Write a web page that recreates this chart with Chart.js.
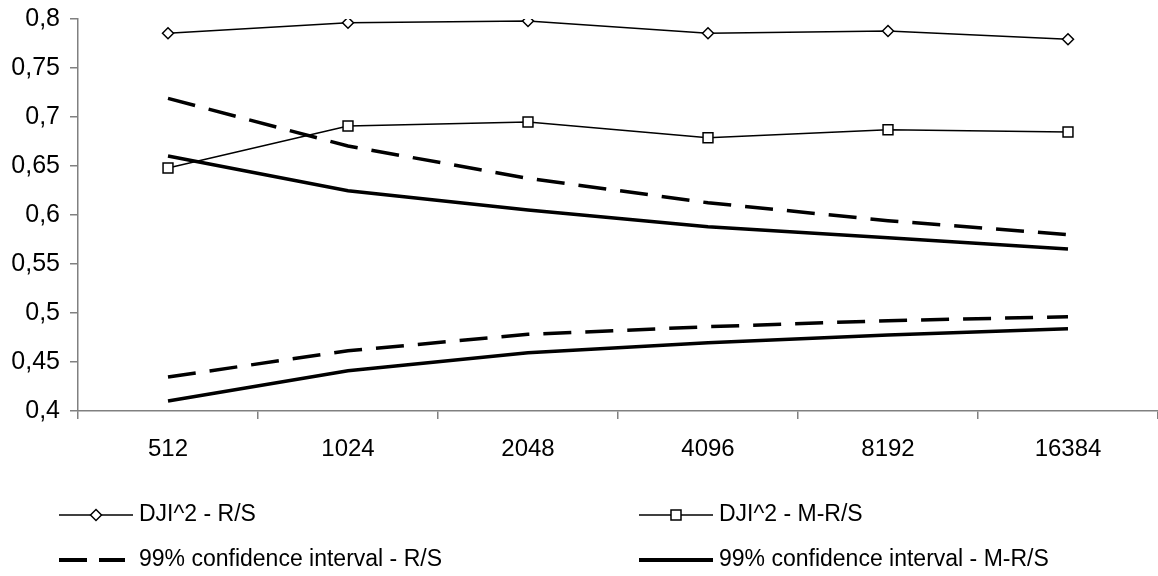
<!DOCTYPE html>
<html>
<head>
<meta charset="utf-8">
<script src="https://cdn.jsdelivr.net/npm/chart.js@4/dist/chart.umd.min.js"></script>
<style>
html,body{margin:0;padding:0;background:#fff;}
#c{display:block;}
</style>
</head>
<body>
<canvas id="c" width="1158" height="576"></canvas>
<script>
const categories = ['512', '1024', '2048', '4096', '8192', '16384'];
const djiRS = [0.7854, 0.7962, 0.7980, 0.7854, 0.7878, 0.7793];
const djiMRS = [0.6480, 0.6908, 0.6949, 0.6789, 0.6870, 0.6847];
const ciRSUpper = [0.7190, 0.6704, 0.6374, 0.6125, 0.5942, 0.5799];
const ciRSLower = [0.4347, 0.4615, 0.4782, 0.4860, 0.4922, 0.4962];
const ciMRSUpper = [0.6602, 0.6248, 0.6051, 0.5881, 0.5768, 0.5653];
const ciMRSLower = [0.4102, 0.4411, 0.4595, 0.4697, 0.4776, 0.4840];
const legendLabels = ['DJI^2 - R/S', 'DJI^2 - M-R/S', '99% confidence interval - R/S', '99% confidence interval - M-R/S'];
const yMin = 0.4, yMax = 0.8, yStep = 0.05;

const FONT = "'Liberation Sans', Arial, sans-serif";
const AXIS = '#808080';
const DASH = [28, 14];

const legendPlugin = {
  id: 'customLegend',
  afterDraw(chart) {
    const ctx = chart.ctx;
    ctx.save();
    const entries = [
      {x: 59, y: 515, label: legendLabels[0], type: 'diamond'},
      {x: 639, y: 515, label: legendLabels[1], type: 'square'},
      {x: 59, y: 560, label: legendLabels[2], type: 'dash'},
      {x: 639, y: 560, label: legendLabels[3], type: 'solid'}
    ];
    entries.forEach(e => {
      ctx.strokeStyle = '#000';
      ctx.lineCap = 'butt';
      ctx.beginPath();
      if (e.type === 'dash') {
        ctx.lineWidth = 4;
        ctx.setLineDash([28, 12]);
        ctx.moveTo(e.x, e.y); ctx.lineTo(e.x + 66, e.y);
      } else if (e.type === 'solid') {
        ctx.lineWidth = 4;
        ctx.setLineDash([]);
        ctx.moveTo(e.x, e.y); ctx.lineTo(e.x + 74, e.y);
      } else {
        ctx.lineWidth = 1.5;
        ctx.setLineDash([]);
        ctx.moveTo(e.x, e.y); ctx.lineTo(e.x + 74, e.y);
      }
      ctx.stroke();
      ctx.setLineDash([]);
      const cx = e.x + 37;
      if (e.type === 'diamond') {
        ctx.beginPath();
        ctx.moveTo(cx, e.y - 5.5); ctx.lineTo(cx + 5.5, e.y); ctx.lineTo(cx, e.y + 5.5); ctx.lineTo(cx - 5.5, e.y); ctx.closePath();
        ctx.fillStyle = '#fff'; ctx.fill(); ctx.lineWidth = 1.5; ctx.stroke();
      } else if (e.type === 'square') {
        ctx.beginPath();
        ctx.rect(cx - 5, e.y - 5, 10, 10);
        ctx.fillStyle = '#fff'; ctx.fill(); ctx.lineWidth = 1.5; ctx.stroke();
      }
      ctx.fillStyle = '#000';
      ctx.font = '23px ' + FONT;
      ctx.textBaseline = 'middle';
      ctx.textAlign = 'left';
      ctx.fillText(e.label, e.x + 80, e.y);
    });
    ctx.restore();
  }
};

function fmt(v) {
  return String(Number(v.toFixed(2))).replace('.', ',');
}

new Chart(document.getElementById('c'), {
  type: 'line',
  data: {
    labels: categories,
    datasets: [
      {label: legendLabels[0], data: djiRS, borderColor: '#000', borderWidth: 1.5, pointStyle: 'rectRot', pointRadius: 5.5, pointBackgroundColor: '#fff', pointBorderColor: '#000', pointBorderWidth: 1.5, tension: 0, order: 0},
      {label: legendLabels[1], data: djiMRS, borderColor: '#000', borderWidth: 1.5, pointStyle: 'rect', pointRadius: 7, pointBackgroundColor: '#fff', pointBorderColor: '#000', pointBorderWidth: 1.5, tension: 0, order: 1},
      {label: legendLabels[2], data: ciRSUpper, borderColor: '#000', borderWidth: 3.5, borderDash: DASH, pointRadius: 0, tension: 0, order: 2},
      {label: legendLabels[2], data: ciRSLower, borderColor: '#000', borderWidth: 3.5, borderDash: DASH, pointRadius: 0, tension: 0, order: 2},
      {label: legendLabels[3], data: ciMRSUpper, borderColor: '#000', borderWidth: 3.5, pointRadius: 0, tension: 0, order: 3},
      {label: legendLabels[3], data: ciMRSLower, borderColor: '#000', borderWidth: 3.5, pointRadius: 0, tension: 0, order: 3}
    ]
  },
  options: {
    responsive: false,
    animation: false,
    devicePixelRatio: 1,
    layout: {autoPadding: false, padding: {top: 19, bottom: 105, left: 0, right: 0}},
    plugins: {legend: {display: false}, tooltip: {enabled: false}},
    scales: {
      x: {
        type: 'category',
        offset: true,
        grid: {offset: true, drawOnChartArea: false, drawTicks: true, tickLength: 8, color: AXIS, lineWidth: 1.5},
        border: {display: true, color: AXIS, width: 1.5},
        ticks: {color: '#000', font: {size: 24, family: FONT}, padding: 16, maxRotation: 0, autoSkip: false},
        afterFit: s => { s.height = 60; s.paddingLeft = 0; s.paddingRight = 0; }
      },
      y: {
        min: yMin,
        max: yMax,
        grid: {drawOnChartArea: false, drawTicks: true, tickLength: 8, color: AXIS, lineWidth: 1.5},
        border: {display: true, color: AXIS, width: 1.5},
        ticks: {stepSize: yStep, color: '#000', font: {size: 25, family: FONT}, padding: 10, callback: v => fmt(v)},
        afterFit: s => { s.width = 78; s.paddingTop = 0; s.paddingBottom = 0; }
      }
    }
  },
  plugins: [legendPlugin]
});
</script>
</body>
</html>
